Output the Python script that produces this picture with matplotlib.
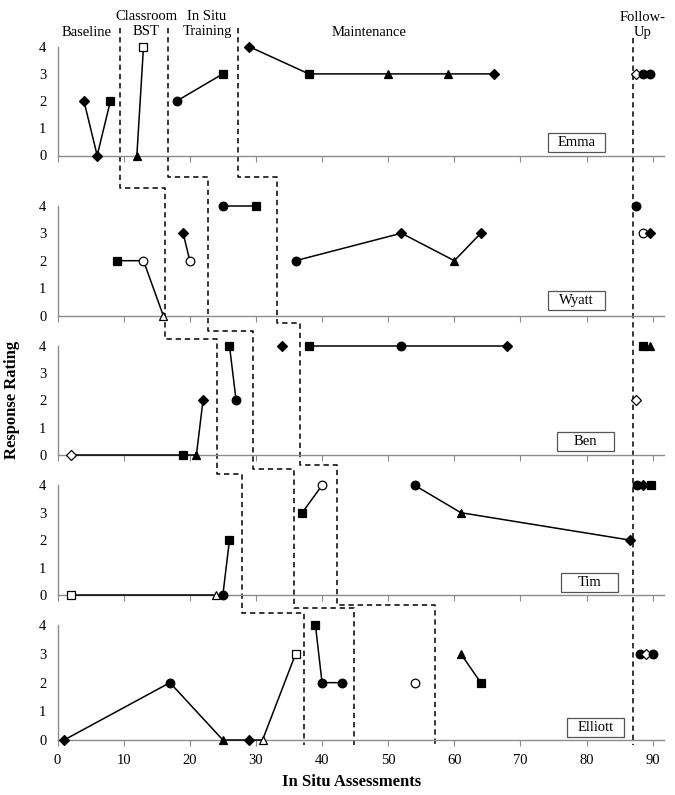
import matplotlib
matplotlib.use("Agg")
import matplotlib.pyplot as plt
from matplotlib.patches import Rectangle

plt.rcParams['font.family'] = ['Liberation Serif', 'DejaVu Serif']

# ---------------- data ----------------
participants = ["Emma", "Wyatt", "Ben", "Tim", "Elliott"]
phase_names = ["Baseline", "Classroom\nBST", "In Situ\nTraining", "Maintenance", "Follow-\nUp"]

# marker codes: D diamond, s square, ^ triangle, o circle; suffix "o" = open
emma_baseline_x = [4, 6, 8];            emma_baseline_y = [2, 0, 2];       emma_baseline_m = ["D", "D", "s"]
emma_bst_x = [12, 13];                  emma_bst_y = [0, 4];               emma_bst_m = ["^", "so"]
emma_insitu_x = [18, 25];               emma_insitu_y = [2, 3];            emma_insitu_m = ["o", "s"]
emma_maint_x = [29, 38, 50, 59, 66];    emma_maint_y = [4, 3, 3, 3, 3];    emma_maint_m = ["D", "s", "^", "^", "D"]
emma_follow_x = [87.5, 88.6, 89.6];     emma_follow_y = [3, 3, 3];         emma_follow_m = ["Do", "o", "o"]

wyatt_baseline_x = [9, 13, 16];         wyatt_baseline_y = [2, 2, 0];      wyatt_baseline_m = ["s", "oo", "^o"]
wyatt_bst_x = [19, 20];                 wyatt_bst_y = [3, 2];              wyatt_bst_m = ["D", "oo"]
wyatt_insitu_x = [25, 30];              wyatt_insitu_y = [4, 4];           wyatt_insitu_m = ["o", "s"]
wyatt_maint_x = [36, 52, 60, 64];       wyatt_maint_y = [2, 3, 2, 3];      wyatt_maint_m = ["o", "D", "^", "D"]
wyatt_follow_x = [87.5, 88.6, 89.6];    wyatt_follow_y = [4, 3, 3];        wyatt_follow_m = ["o", "oo", "D"]

ben_baseline_x = [2, 19, 21, 22];       ben_baseline_y = [0, 0, 0, 2];     ben_baseline_m = ["Do", "s", "^", "D"]
ben_bst_x = [26, 27];                   ben_bst_y = [4, 2];                ben_bst_m = ["s", "o"]
ben_insitu_x = [34];                    ben_insitu_y = [4];                ben_insitu_m = ["D"]
ben_maint_x = [38, 52, 68];             ben_maint_y = [4, 4, 4];           ben_maint_m = ["s", "o", "D"]
ben_follow_x = [87.5, 88.5, 89.6];      ben_follow_y = [2, 4, 4];          ben_follow_m = ["Do", "s", "^"]

tim_baseline_x = [2, 24, 25, 26];       tim_baseline_y = [0, 0, 0, 2];     tim_baseline_m = ["so", "^o", "o", "s"]
tim_bst_x = [];                         tim_bst_y = [];                    tim_bst_m = []
tim_insitu_x = [37, 40];                tim_insitu_y = [3, 4];             tim_insitu_m = ["s", "oo"]
tim_maint_x = [54, 61, 86.6];           tim_maint_y = [4, 3, 2];           tim_maint_m = ["o", "^", "D"]
tim_follow_x = [87.6, 88.6, 89.7];      tim_follow_y = [4, 4, 4];          tim_follow_m = ["o", "D", "s"]

elliott_baseline_x = [1, 17, 25, 29, 31, 36]; elliott_baseline_y = [0, 2, 0, 0, 0, 3]
elliott_baseline_m = ["D", "o", "^", "D", "^o", "so"]
elliott_bst_x = [39, 40, 43];           elliott_bst_y = [4, 2, 2];         elliott_bst_m = ["s", "o", "o"]
elliott_insitu_x = [54];                elliott_insitu_y = [2];            elliott_insitu_m = ["oo"]
elliott_maint_x = [61, 64];             elliott_maint_y = [3, 2];          elliott_maint_m = ["^", "s"]
elliott_follow_x = [88, 89, 90];        elliott_follow_y = [3, 3, 3];      elliott_follow_m = ["o", "Do", "o"]

# phase change positions (x) per participant
phase_line_a = [9.5, 16.25, 24.1, 27.9, 37.2]     # Baseline -> Classroom BST
phase_line_b = [16.75, 22.7, 29.5, 35.8, 44.8]    # BST -> In Situ Training
phase_line_c = [27.3, 33.2, 36.6, 42.2, 57.1]     # In Situ -> Maintenance
phase_line_d = 87.0                               # Follow-up

x_ticks = [0, 10, 20, 30, 40, 50, 60, 70, 80, 90]
y_ticks = [0, 1, 2, 3, 4]

data = {
    "Emma": [(emma_baseline_x, emma_baseline_y, emma_baseline_m, True),
             (emma_bst_x, emma_bst_y, emma_bst_m, True),
             (emma_insitu_x, emma_insitu_y, emma_insitu_m, True),
             (emma_maint_x, emma_maint_y, emma_maint_m, True),
             (emma_follow_x, emma_follow_y, emma_follow_m, False)],
    "Wyatt": [(wyatt_baseline_x, wyatt_baseline_y, wyatt_baseline_m, True),
              (wyatt_bst_x, wyatt_bst_y, wyatt_bst_m, True),
              (wyatt_insitu_x, wyatt_insitu_y, wyatt_insitu_m, True),
              (wyatt_maint_x, wyatt_maint_y, wyatt_maint_m, True),
              (wyatt_follow_x, wyatt_follow_y, wyatt_follow_m, False)],
    "Ben": [(ben_baseline_x, ben_baseline_y, ben_baseline_m, True),
            (ben_bst_x, ben_bst_y, ben_bst_m, True),
            (ben_insitu_x, ben_insitu_y, ben_insitu_m, True),
            (ben_maint_x, ben_maint_y, ben_maint_m, True),
            (ben_follow_x, ben_follow_y, ben_follow_m, False)],
    "Tim": [(tim_baseline_x, tim_baseline_y, tim_baseline_m, True),
            (tim_bst_x, tim_bst_y, tim_bst_m, True),
            (tim_insitu_x, tim_insitu_y, tim_insitu_m, True),
            (tim_maint_x, tim_maint_y, tim_maint_m, True),
            (tim_follow_x, tim_follow_y, tim_follow_m, False)],
    "Elliott": [(elliott_baseline_x, elliott_baseline_y, elliott_baseline_m, True),
                (elliott_bst_x, elliott_bst_y, elliott_bst_m, True),
                (elliott_insitu_x, elliott_insitu_y, elliott_insitu_m, True),
                (elliott_maint_x, elliott_maint_y, elliott_maint_m, True),
                (elliott_follow_x, elliott_follow_y, elliott_follow_m, False)],
}

# ---------------- layout (pixels) ----------------
W, H = 675, 795
XMAX = 91.7
left_px, right_px = 57.5, 664.0
panel_px = [(46.7, 155.5), (205.7, 315.7), (345.7, 455.0), (485.3, 595.0), (625.3, 740.0)]  # (y=4, y=0)
jog_px = {  # y of horizontal jogs between panels for each phase line
    "a": [188.3, 338.5, 474.3, 612.7],
    "b": [176.7, 330.7, 469.0, 608.0],
    "c": [176.7, 323.3, 465.0, 604.5],
}
line_top_px, line_bottom_px, follow_top_px = 28, 745, 38
label_box_center = [(78.5, 0.48), (78.5, 0.57), (79.8, 0.49), (80.5, 0.44), (81.3, 0.45)]

fig = plt.figure(figsize=(W / 100, H / 100), dpi=100)

# overlay axes for phase-change lines (x in data units, y in pixels)
ov = fig.add_axes([left_px / W, 0, (right_px - left_px) / W, 1])
ov.set_xlim(0, XMAX)
ov.set_ylim(H, 0)
ov.axis("off")

def marker_style(code):
    base = code[0]
    is_open = len(code) > 1
    size = {"D": 5.0, "s": 6.0, "^": 6.0, "o": 6.2}[base]
    return dict(marker=base, markersize=size,
                markerfacecolor="white" if is_open else "black",
                markeredgecolor="black", markeredgewidth=0.9)

grey = "#8c8c8c"
for i, name in enumerate(participants):
    y4, y0 = panel_px[i]
    ax = fig.add_axes([left_px / W, 1 - y0 / H, (right_px - left_px) / W, (y0 - y4) / H])
    ax.set_facecolor("none")
    ax.set_xlim(0, XMAX)
    ax.set_ylim(0, 4)
    for s in ["top", "right"]:
        ax.spines[s].set_visible(False)
    for s in ["left", "bottom"]:
        ax.spines[s].set_color(grey)
        ax.spines[s].set_linewidth(1.0)
    ax.set_xticks(x_ticks)
    ax.set_yticks(y_ticks)
    ax.tick_params(axis="x", direction="out", length=4, color=grey, labelsize=10.5, pad=6)
    ax.tick_params(axis="y", direction="out", length=0, color=grey, labelsize=10.5, pad=8)
    if i < len(participants) - 1:
        ax.set_xticklabels([])

    for xs, ys, ms, connect in data[name]:
        if len(xs) == 0:
            continue
        if connect and len(xs) > 1:
            ax.plot(xs, ys, color="black", linewidth=1.1, zorder=3, clip_on=False)
        for x, y, m in zip(xs, ys, ms):
            ax.plot([x], [y], linestyle="none", zorder=4, clip_on=False, **marker_style(m))

    cx, cy = label_box_center[i]
    bw, bh = 8.6, 19.0 / ((y0 - y4) / 4)
    ax.add_patch(Rectangle((cx - bw / 2, cy - bh / 2), bw, bh, facecolor="white",
                           edgecolor="#555555", linewidth=0.9, zorder=5, clip_on=False))
    ax.text(cx, cy, name, ha="center", va="center", fontsize=10.5, zorder=6)

# stepped phase-change lines
def step_path(xs, jogs):
    px, py = [xs[0]], [line_top_px]
    for k in range(len(jogs)):
        px += [xs[k], xs[k + 1]]
        py += [jogs[k], jogs[k]]
    px.append(xs[-1]); py.append(line_bottom_px)
    return px, py

for xs, key in [(phase_line_a, "a"), (phase_line_b, "b"), (phase_line_c, "c")]:
    px, py = step_path(xs, jog_px[key])
    ov.plot(px, py, color="black", linewidth=1.1, linestyle=(0, (3.5, 2.5)))
ov.plot([phase_line_d, phase_line_d], [follow_top_px, line_bottom_px], color="black",
        linewidth=1.1, linestyle=(0, (3.5, 2.5)))

# phase labels (figure pixel positions)
phase_label_pos = [(86.7, 32.5), (146, 24), (207, 24), (369, 33), (643, 25)]
for txt, (x, y) in zip(phase_names, phase_label_pos):
    fig.text(x / W, 1 - y / H, txt, ha="center", va="center", fontsize=10.5, linespacing=1.25)

fig.text(12 / W, 1 - 400 / H, "Response Rating", rotation=90, ha="center", va="center",
         fontsize=12, fontweight="bold")
fig.text(352 / W, 1 - 782 / H, "In Situ Assessments", ha="center", va="center",
         fontsize=12, fontweight="bold")

fig.savefig("out.png", dpi=100)
